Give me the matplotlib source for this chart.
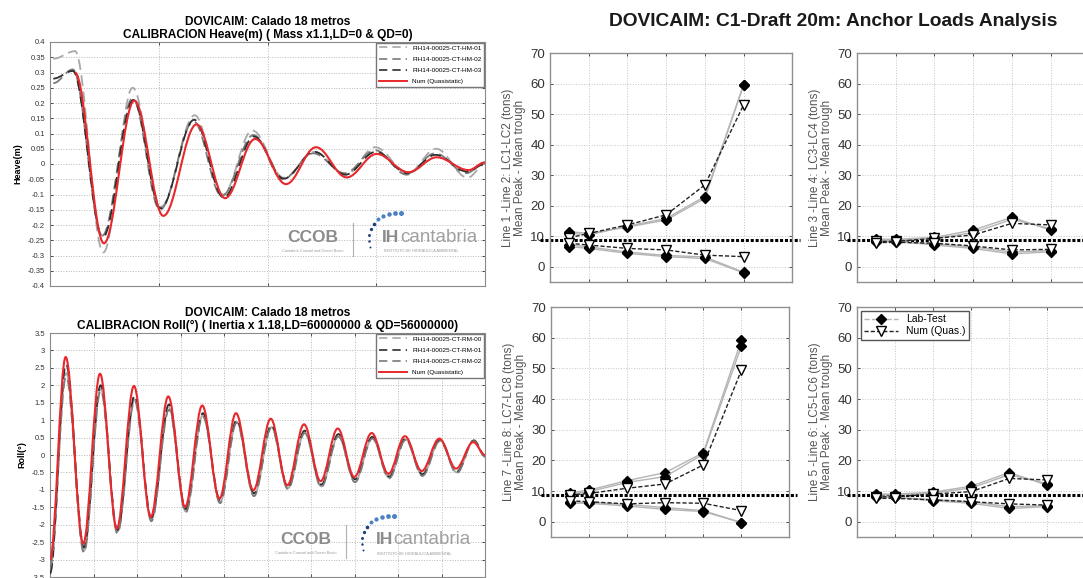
import matplotlib.pyplot as plt
from matplotlib.path import Path
from matplotlib.patches import PathPatch, Rectangle
from matplotlib.lines import Line2D

plt.rcParams['font.family'] = ['Liberation Sans', 'DejaVu Sans']

# ---------------- time series (peaks / troughs) ----------------
heave_num_t = [11.5, 24.8, 38.8, 52.1, 67.4, 80.5, 94.3, 108.5, 122.3, 136.4, 150.2, 164.8, 177.8, 192.4, 200]
heave_num_y = [0.30, -0.26, 0.208, -0.17, 0.13, -0.112, 0.082, -0.066, 0.055, -0.044, 0.033, -0.027, 0.022, -0.02, 0.005]

heave_hm01_t = [1.5, 11.5, 24.5, 38.0, 51.0, 66.5, 79.5, 93.0, 107.5, 121.5, 136.0, 149.5, 164.5, 177.5, 192.0, 200]
heave_hm01_y = [0.345, 0.37, -0.29, 0.25, -0.14, 0.16, -0.10, 0.11, -0.045, 0.04, -0.035, 0.055, -0.03, 0.05, -0.045, 0.0]
heave_hm02_t = [1.5, 10.5, 24.0, 38.0, 50.5, 66.0, 79.0, 93.5, 107.0, 121.0, 135.5, 149.5, 164.0, 177.0, 191.5, 200]
heave_hm02_y = [0.265, 0.31, -0.235, 0.215, -0.15, 0.14, -0.105, 0.095, -0.05, 0.035, -0.03, 0.045, -0.035, 0.035, -0.03, 0.005]
heave_hm03_t = [1.5, 10.5, 24.3, 38.3, 50.8, 66.3, 79.8, 93.8, 107.5, 121.5, 135.8, 149.8, 164.2, 177.2, 191.8, 200]
heave_hm03_y = [0.28, 0.305, -0.24, 0.21, -0.145, 0.145, -0.11, 0.09, -0.048, 0.04, -0.035, 0.04, -0.03, 0.03, -0.025, 0.0]

roll_num_t = [0, 7.2, 15.3, 23.0, 30.7, 38.6, 46.3, 54.4, 62.1, 70.0, 77.9, 85.5, 93.5, 101.5,
              109.1, 116.8, 124.4, 132.3, 139.9, 147.9, 155.6, 163.2, 170.9, 179.0, 186.7, 194.6, 200]
roll_num_y = [-3.0, 2.81, -2.54, 2.33, -2.11, 1.98, -1.78, 1.68, -1.49, 1.42, -1.25, 1.20, -1.01, 1.04,
              -0.87, 0.88, -0.75, 0.76, -0.63, 0.63, -0.54, 0.54, -0.46, 0.47, -0.39, 0.37, 0.0]
roll_exp_t = [0, 7.4, 15.6, 23.3, 31.0, 38.9, 46.6, 54.7, 62.4, 70.3, 78.2, 85.8, 93.8, 101.8,
              109.4, 117.1, 124.7, 132.6, 140.2, 148.2, 155.9, 163.5, 171.2, 179.3, 187.0, 194.9, 200]
roll_rm00_y = [-3.3, 2.35, -2.75, 1.9, -2.2, 1.6, -1.85, 1.35, -1.62, 1.15, -1.35, 0.95, -1.15, 0.8,
               -0.95, 0.65, -0.9, 0.55, -0.75, 0.48, -0.65, 0.45, -0.58, 0.42, -0.5, 0.42, -0.05]
roll_rm01_y = [-3.4, 2.6, -2.65, 2.0, -2.15, 1.7, -1.8, 1.45, -1.55, 1.2, -1.3, 1.0, -1.1, 0.85,
               -0.92, 0.7, -0.85, 0.6, -0.7, 0.52, -0.62, 0.47, -0.55, 0.44, -0.48, 0.42, -0.02]
roll_rm02_y = [-3.2, 2.25, -2.8, 1.85, -2.25, 1.55, -1.9, 1.3, -1.65, 1.1, -1.38, 0.92, -1.18, 0.78,
               -0.98, 0.63, -0.92, 0.53, -0.78, 0.47, -0.67, 0.43, -0.6, 0.4, -0.52, 0.4, -0.05]

# ---------------- anchor load panels ----------------
load_x = [0.5, 1, 2, 3, 4, 5]
threshold = 8.6

l12_lab_hi = [[11.5, 10.9, 13.0, 15.3, 22.4, 59.6], [11.0, 10.4, 13.3, 15.8, 23.0, 59.6]]
l12_lab_lo = [[6.6, 6.0, 4.4, 3.3, 2.7, -2.0], [7.2, 6.5, 4.8, 3.7, 3.2, -1.8]]
l12_num_hi = [9.5, 10.9, 13.7, 17.0, 26.8, 53.0]
l12_num_lo = [7.7, 7.1, 6.0, 5.5, 3.8, 3.3]

l34_lab_hi = [[9.0, 9.0, 9.6, 12.0, 16.2, 12.0], [8.6, 8.7, 9.2, 11.2, 15.5, 12.5]]
l34_lab_lo = [[8.4, 8.4, 7.1, 6.0, 4.2, 4.9], [8.0, 8.2, 7.5, 6.5, 4.8, 5.3]]
l34_num_hi = [8.3, 8.3, 9.3, 10.4, 14.2, 13.7]
l34_num_lo = [7.9, 8.0, 7.7, 6.8, 5.5, 5.7]

l78_lab_hi = [[9.4, 10.3, 13.4, 16.0, 22.5, 59.2], [9.0, 9.8, 12.8, 14.7, 22.0, 57.3]]
l78_lab_lo = [[6.0, 6.0, 5.1, 4.0, 3.3, -0.3], [6.4, 6.3, 5.6, 4.6, 3.6, -0.3]]
l78_num_hi = [8.7, 9.2, 10.9, 12.3, 18.5, 49.4]
l78_num_lo = [6.8, 6.5, 5.8, 6.2, 6.0, 3.6]

l56_lab_hi = [[9.0, 9.0, 9.6, 11.6, 16.0, 11.9], [8.7, 8.8, 9.3, 11.0, 15.3, 12.4]]
l56_lab_lo = [[8.4, 8.0, 6.8, 6.0, 4.3, 4.9], [8.1, 7.9, 7.2, 6.5, 4.9, 5.2]]
l56_num_hi = [8.1, 8.1, 9.0, 9.8, 14.1, 13.6]
l56_num_lo = [7.6, 7.6, 7.1, 6.5, 5.8, 5.4]

RED = '#e8282c'
G_LIGHT, G_MID, G_DARK = '#a8a8a8', '#7a7a7a', '#2e2e2e'
W, H = 1083, 578


def wave_path(t, y, k=0.36):
    # smooth curve through the extrema, flat tangent at each peak / trough
    verts = [(t[0], y[0])]
    codes = [Path.MOVETO]
    for i in range(len(t) - 1):
        dt = t[i + 1] - t[i]
        verts += [(t[i] + k * dt, y[i]), (t[i + 1] - k * dt, y[i + 1]), (t[i + 1], y[i + 1])]
        codes += [Path.CURVE4] * 3
    return Path(verts, codes)


def add_wave(ax, t, y, color, lw, ls, z):
    ax.add_patch(PathPatch(wave_path(t, y), fill=False, edgecolor=color, lw=lw,
                           linestyle=ls, zorder=z, capstyle='butt'))


def add_logo(ax, cx, cy):
    ax.add_patch(Rectangle((cx - 0.14, cy - 0.085), 0.53, 0.205, transform=ax.transAxes,
                           facecolor='white', edgecolor='none', zorder=1.5))
    ax.text(cx, cy, 'CCOB', transform=ax.transAxes, ha='center', va='center',
            fontsize=12.5, fontweight='bold', color='#8c8c8c', zorder=2)
    ax.text(cx, cy - 0.055, 'Cantabria Coastal and Ocean Basin', transform=ax.transAxes,
            ha='center', va='center', fontsize=2.8, color='#9a9a9a', zorder=2)
    ax.plot([cx + 0.092, cx + 0.092], [cy - 0.075, cy + 0.06], transform=ax.transAxes,
            color='#b0b0b0', lw=0.8, zorder=2)
    dots = [(57, 10), (56, 4), (56, -2), (58, -8), (61, -13), (65, -18), (70, -21), (76, -23), (82, -24), (88, -24)]
    for i, (dx, dy) in enumerate(dots):
        ax.scatter(cx + dx / 435, cy - dy / 244, s=2 + i * 1.2, transform=ax.transAxes,
                   color='#1d3f78' if i < 5 else '#4a80c4', zorder=2, linewidths=0)
    ax.text(cx + 0.159, cy, 'IH', transform=ax.transAxes, ha='left', va='center',
            fontsize=12.5, fontweight='bold', color='#8c8c8c', zorder=2)
    ax.text(cx + 0.201, cy, 'cantabria', transform=ax.transAxes, ha='left', va='center',
            fontsize=13.5, color='#a0a0a0', zorder=2)
    ax.text(cx + 0.162, cy - 0.058, 'INSTITUTO DE HIDRÁULICA AMBIENTAL', transform=ax.transAxes,
            ha='left', va='center', fontsize=2.8, color='#9a9a9a', zorder=2)


def style_ts(ax, ylim, ystep, xstep, ylabel, title):
    ax.set_xlim(0, 200)
    ax.set_ylim(*ylim)
    n = int(round((ylim[1] - ylim[0]) / ystep))
    ticks = [round(ylim[0] + i * ystep, 2) for i in range(n + 1)]
    ax.set_yticks(ticks)
    ax.set_yticklabels([('%g' % v) for v in ticks])
    ax.set_xticks(range(0, 201, xstep))
    ax.set_xticklabels([])
    ax.tick_params(direction='in', top=True, right=True, length=2, labelsize=5.5,
                   colors='#333333', width=0.6)
    ax.grid(True, linestyle=':', color='#b8b8b8', lw=0.7)
    for s in ax.spines.values():
        s.set_color('#8a8a8a')
        s.set_linewidth(0.8)
    ax.set_ylabel(ylabel, fontsize=6.5, fontweight='bold', labelpad=4)
    ax.set_title(title, fontsize=8.6, fontweight='bold', pad=3, linespacing=1.1)


fig = plt.figure(figsize=(W / 100, H / 100), dpi=100)
fig.patch.set_facecolor('white')

# ---- heave ----
ax1 = fig.add_axes([50 / W, 1 - 286 / H, 435 / W, 244 / H])
add_wave(ax1, heave_hm01_t, heave_hm01_y, G_LIGHT, 1.3, (0, (6, 3)), 3)
add_wave(ax1, heave_hm02_t, heave_hm02_y, G_MID, 1.3, (0, (6, 3)), 3)
add_wave(ax1, heave_hm03_t, heave_hm03_y, G_DARK, 1.3, (0, (6, 3)), 3)
add_wave(ax1, heave_num_t, heave_num_y, RED, 1.5, '-', 4)
style_ts(ax1, (-0.4, 0.4), 0.05, 50, 'Heave(m)',
         'DOVICAIM: Calado 18 metros\nCALIBRACION Heave(m) ( Mass x1.1,LD=0 & QD=0)')
add_logo(ax1, 0.605, 0.20)
h1 = [Line2D([], [], color=G_LIGHT, lw=1.2, ls=(0, (5, 3))),
      Line2D([], [], color=G_MID, lw=1.2, ls=(0, (5, 3))),
      Line2D([], [], color=G_DARK, lw=1.2, ls=(0, (5, 3))),
      Line2D([], [], color=RED, lw=1.4)]
ax1.legend(h1, ['FIH14-00025-CT-HM-01', 'FIH14-00025-CT-HM-02', 'FIH14-00025-CT-HM-03', 'Num (Quasistatic)'],
           loc='upper right', fontsize=4.6, fancybox=False, edgecolor='#777777', handlelength=4.5,
           labelspacing=0.9, borderaxespad=0.1, framealpha=1)

# ---- roll ----
ax2 = fig.add_axes([50 / W, 1 - 577 / H, 435 / W, 244 / H])
add_wave(ax2, roll_exp_t, roll_rm00_y, G_LIGHT, 1.3, (0, (6, 3)), 3)
add_wave(ax2, roll_exp_t, roll_rm01_y, G_DARK, 1.3, (0, (6, 3)), 3)
add_wave(ax2, roll_exp_t, roll_rm02_y, G_MID, 1.3, (0, (6, 3)), 3)
add_wave(ax2, roll_num_t, roll_num_y, RED, 1.5, '-', 4)
style_ts(ax2, (-3.5, 3.5), 0.5, 20, 'Roll(°)',
         'DOVICAIM: Calado 18 metros\nCALIBRACION Roll(°) ( Inertia x 1.18,LD=60000000 & QD=56000000)')
add_logo(ax2, 0.589, 0.152)
h2 = [Line2D([], [], color=G_LIGHT, lw=1.2, ls=(0, (5, 3))),
      Line2D([], [], color=G_DARK, lw=1.2, ls=(0, (5, 3))),
      Line2D([], [], color=G_MID, lw=1.2, ls=(0, (5, 3))),
      Line2D([], [], color=RED, lw=1.4)]
ax2.legend(h2, ['FIH14-00025-CT-RM-00', 'FIH14-00025-CT-RM-01', 'FIH14-00025-CT-RM-02', 'Num (Quasistatic)'],
           loc='upper right', fontsize=4.6, fancybox=False, edgecolor='#777777', handlelength=4.5,
           labelspacing=0.9, borderaxespad=0.1, framealpha=1)

# ---- anchor load panels ----
panels = [
    ([550 / W, 1 - 282 / H, 242 / W, 229 / H], l12_lab_hi, l12_lab_lo, l12_num_hi, l12_num_lo,
     'Line 1 -Line 2: LC1-LC2 (tons)\nMean Peak - Mean trough'),
    ([857 / W, 1 - 282 / H, 242 / W, 229 / H], l34_lab_hi, l34_lab_lo, l34_num_hi, l34_num_lo,
     'Line 3 -Line 4: LC3-LC4 (tons)\nMean Peak - Mean trough'),
    ([551 / W, 1 - 537 / H, 238 / W, 230 / H], l78_lab_hi, l78_lab_lo, l78_num_hi, l78_num_lo,
     'Line 7 -Line 8: LC7-LC8 (tons)\nMean Peak - Mean trough'),
    ([857 / W, 1 - 537 / H, 238 / W, 230 / H], l56_lab_hi, l56_lab_lo, l56_num_hi, l56_num_lo,
     'Line 5 -Line 6: LC5-LC6 (tons)\nMean Peak - Mean trough'),
]

num_ls = (0, (3, 1.5))
for i, (pos, lab_hi, lab_lo, num_hi, num_lo, ylab) in enumerate(panels):
    ax = fig.add_axes(pos)
    ax.plot([-0.25, 6.45], [threshold, threshold], color='black', lw=2.2, ls=(0, (1, 0.6)),
            clip_on=False, zorder=2)
    for row in lab_hi + lab_lo:
        ax.plot(load_x, row, color='#b4b4b4', lw=1.0, marker='D', ms=5,
                mfc='black', mec='black', zorder=3)
    for row in [num_hi, num_lo]:
        ax.plot(load_x, row, color='#222222', lw=1.0, ls=num_ls, marker='v', ms=7,
                mfc='white', mec='black', mew=1.0, zorder=4)
    ax.set_xlim(0, 6.25)
    ax.set_ylim(-5, 70)
    ax.set_yticks(range(0, 71, 10))
    ax.set_xticks([1, 2, 3, 4, 5])
    ax.set_xticklabels([])
    ax.tick_params(direction='in', top=True, right=True, length=2, labelsize=9.5,
                   colors='#333333', width=0.6)
    ax.grid(True, linestyle=':', color='#c4c4c4', lw=0.7)
    for s in ax.spines.values():
        s.set_color('#909090')
        s.set_linewidth(1.0)
    ax.set_ylabel(ylab, fontsize=8.5, color='#555555', labelpad=3, linespacing=1.0)
    if i == 3:
        hl = [Line2D([], [], color='#b4b4b4', lw=1.0, ls='--', marker='D', ms=5, mfc='black', mec='black'),
              Line2D([], [], color='#222222', lw=1.0, ls=num_ls, marker='v', ms=7, mfc='white', mec='black')]
        ax.legend(hl, ['Lab-Test', 'Num (Quas.)'], loc='upper left', fontsize=7.5, fancybox=False,
                  edgecolor='#555555', handlelength=3.2, labelspacing=0.2, borderpad=0.3,
                  borderaxespad=0.4, framealpha=1)

fig.text(833 / W, 1 - 21 / H, 'DOVICAIM: C1-Draft 20m: Anchor Loads Analysis',
         ha='center', va='center', fontsize=13.8, fontweight='bold', color='#1a1a1a')

fig.savefig('out.png', dpi=100)
